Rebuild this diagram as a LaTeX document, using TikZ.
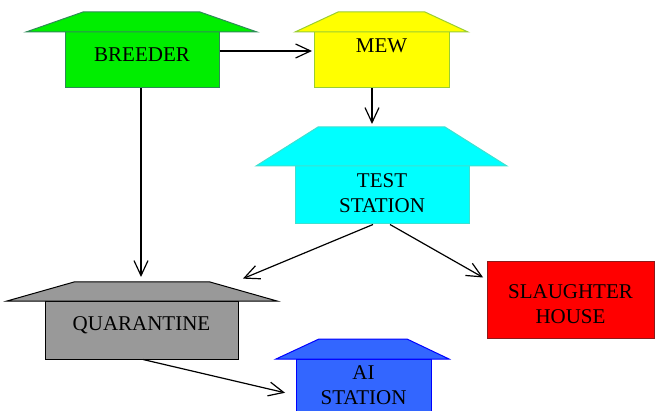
\documentclass[tikz,border=0pt]{standalone}
\usepackage{fontspec}
\setmainfont{Liberation Serif}
\usetikzlibrary{arrows.meta}
\definecolor{brfill}{HTML}{00EE00}\definecolor{brline}{HTML}{2E8B57}
\definecolor{mwfill}{HTML}{FFFF00}\definecolor{mwline}{HTML}{9ACD32}
\definecolor{tsfill}{HTML}{00FFFF}\definecolor{tsline}{HTML}{40E0D0}
\definecolor{qufill}{HTML}{999999}\definecolor{quline}{HTML}{000000}
\definecolor{aifill}{HTML}{3366FF}\definecolor{ailine}{HTML}{0000FF}
\definecolor{shfill}{HTML}{FF0000}\definecolor{shline}{HTML}{8B1A1A}
\tikzset{
  housebody/.style={rectangle, line width=1pt, inner sep=0pt},
  label/.style={font=\fontsize{21}{25}\selectfont, align=center, inner sep=0pt},
  roof/.style={line width=1pt, line join=miter},
  arr/.style={line width=1.2pt, -{Straight Barb[length=15pt,width=14pt,line width=1.2pt]}, shorten >=1pt},
}
\begin{document}
\begin{tikzpicture}[x=1pt,y=-1pt]
\useasboundingbox (0,0) rectangle (655,411);
% BREEDER
\node[housebody, draw=brline, fill=brfill, minimum width=154pt, minimum height=56pt] (breeder) at (142,60) {};
\filldraw[roof, draw=brline, fill=brfill] (26,32) -- (83,12) -- (200,12) -- (257,32) -- cycle;
\node[label] (breedertxt) at (142,55) {BREEDER};
% MEW
\node[housebody, draw=mwline, fill=mwfill, minimum width=135pt, minimum height=56pt] (mew) at (381.5,60) {};
\filldraw[roof, draw=mwline, fill=mwfill] (295,32) -- (338,12) -- (425,12) -- (468,32) -- cycle;
\node[label] (mewtxt) at (381.5,46) {MEW};
% TEST STATION
\node[housebody, draw=tsline, fill=tsfill, minimum width=174pt, minimum height=58pt] (test) at (382,195) {};
\filldraw[roof, draw=tsline, fill=tsfill] (256,166) -- (318,127) -- (445,127) -- (507,166) -- cycle;
\node[label] (testtxt) at (382,193.5) {TEST\\STATION};
% QUARANTINE
\node[housebody, draw=quline, fill=qufill, minimum width=193pt, minimum height=58pt] (quar) at (141.5,330) {};
\filldraw[roof, draw=quline, fill=qufill] (7,301) -- (74,282) -- (210,282) -- (277,301) -- cycle;
\node[label] (quartxt) at (141.5,325) {QUARANTINE};
% AI STATION
\node[housebody, draw=ailine, fill=aifill, minimum width=135pt, minimum height=62pt] (ai) at (363.5,390) {};
\filldraw[roof, draw=ailine, fill=aifill] (276,359) -- (319,339) -- (407,339) -- (449,359) -- cycle;
\node[label] (aitxt) at (363.5,385) {AI\\STATION};
% SLAUGHTER HOUSE
\node[housebody, draw=shline, fill=shfill, minimum width=167pt, minimum height=76pt] (slaughter) at (570.5,300) {};
\node[label] (slaughtertxt) at (570.5,304) {SLAUGHTER\\HOUSE};
% arrow targets
\coordinate (mewin) at (313,51);
\coordinate (testin) at (372,125);
\coordinate (quarinA) at (141,278);
\coordinate (quarinB) at (242,279);
\coordinate (slin) at (484,278);
\coordinate (aiin) at (286,393);
% connectors
\draw[arr] ([yshift=9pt]breeder.east) -- (mewin);
\draw[arr] ([xshift=-9.5pt]mew.south) -- (testin);
\draw[arr] ([xshift=-1pt]breeder.south) -- (quarinA);
\draw[arr] ([xshift=-9pt]test.south) -- (quarinB);
\draw[arr] ([xshift=8pt]test.south) -- (slin);
\draw[arr] ([xshift=1.5pt]quar.south) -- (aiin);
\end{tikzpicture}
\end{document}
